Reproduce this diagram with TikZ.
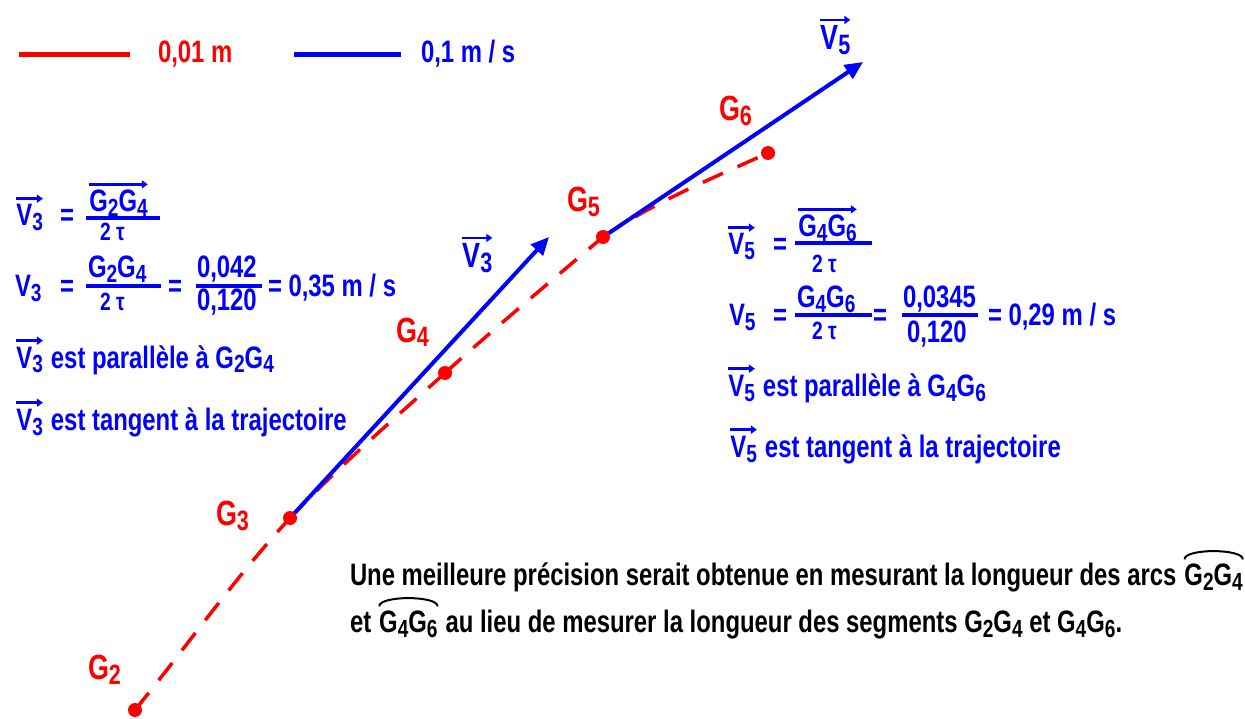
\documentclass[tikz,border=0pt]{standalone}
\usepackage{fontspec}
\setmainfont{Liberation Sans}[FakeStretch=0.77]
\usetikzlibrary{arrows.meta}
\newcommand\ix[1]{\raisebox{-5pt}{\scalebox{0.8}{#1}}}
\newcommand\vv[1]{\tikz[baseline=(vvn.base)]{\node[inner sep=0pt,outer sep=0pt,anchor=base west,text=blue](vvn){#1};\draw[blue,line width=2.8pt,-{Triangle[length=6pt,width=8pt]}]([yshift=6pt]vvn.north west)--([yshift=6pt]vvn.north east);}}
\tikzset{
  txt/.style={inner sep=0pt,outer sep=0pt,anchor=base west,font=\bfseries\fontsize{31}{33}\selectfont},
  bl/.style={txt,text=blue},
  rd/.style={txt,text=red},
  bk/.style={txt,text=black},
  lab/.style={font=\bfseries\fontsize{35}{37}\selectfont},
  den/.style={bl,font=\bfseries\fontsize{25}{27}\selectfont},
  fbar/.style={draw=blue,line width=3.5pt},
  traj/.style={red,line width=3.5pt,dash pattern=on 22pt off 16pt},
  vel/.style={blue,line width=4pt,-{Triangle[length=18pt,width=16pt]}},
  legline/.style={line width=5pt},
  arcmark/.style={draw=black,line width=2pt}
}
\begin{document}
\begin{tikzpicture}[x=1pt,y=-1pt]
\fill[white] (0,0) rectangle (1245,719);
\useasboundingbox (0,0) rectangle (1245,719);

% legend
\draw[legline,red] (19,55) -- (130,55);
\node[rd] (leg1) at (158,63) {0,01 m};
\draw[legline,blue] (294,55) -- (401,55);
\node[bl] (leg2) at (421,63) {0,1 m / s};

% points
\coordinate (G2) at (135,710);
\coordinate (G3) at (290,518);
\coordinate (G4) at (445,373);
\coordinate (G5) at (603,237);
\coordinate (G6) at (768,153);
\coordinate (T3) at (549,237);
\coordinate (T5) at (863,62);

% trajectory
\draw[traj] (G2) .. controls +(52,-64) and +(-56,61) .. (G3);
\draw[traj] (G3) .. controls +(48,-51) and +(-51,46) .. (G4);
\draw[traj] (G4) .. controls +(51,-46) and +(-52,44) .. (G5);
\draw[traj] (G5) .. controls +(51,-35) and +(-57,26) .. (G6);

% velocity vectors
\draw[vel] (G3) -- (T3);
\draw[vel] (G5) -- (T5);

\foreach \p in {G2,G3,G4,G5,G6} \fill[red] (\p) circle (7);

% point labels
\node[rd,lab] (lG2) at (88,679) {G\ix{2}};
\node[rd,lab] (lG3) at (216,525) {G\ix{3}};
\node[rd,lab] (lG4) at (396,342) {G\ix{4}};
\node[rd,lab] (lG5) at (567,212) {G\ix{5}};
\node[rd,lab] (lG6) at (719,121) {G\ix{6}};
\node[bl,lab] (lV3) at (461,268) {\vv{V\ix{3}}};
\node[bl,lab] (lV5) at (819,50) {\vv{V\ix{5}}};

% left block
\node[bl] (l1v) at (15,226) {\vv{V\ix{3}}};
\node[bl] (l1eq) at (60,226) {=};
\node[bl] (l1n) at (88,212) {\vv{G\ix{2}G\ix{4}}};
\draw[fbar] (86,218) -- (160,218);
\node[den] (l1d) at (100,241) {2 τ};

\node[bl] (l2v) at (15,297) {V\ix{3}};
\node[bl] (l2eq) at (60,297) {=};
\node[bl] (l2n) at (88,278) {G\ix{2}G\ix{4}};
\draw[fbar] (86,286) -- (161,286);
\node[den] (l2d) at (100,311) {2 τ};
\node[bl] (l2eqb) at (168,297) {=};
\node[bl] (l2n2) at (197,278) {0,042};
\draw[fbar] (196,286) -- (262,286);
\node[bl] (l2d2) at (197,311) {0,120};
\node[bl] (l2r) at (268,297) {= 0,35 m / s};

\node[bl] (l3) at (15,368) {\vv{V\ix{3}} est parallèle à G\ix{2}G\ix{4}};
\node[bl] (l4) at (15,430) {\vv{V\ix{3}} est tangent à la trajectoire};

% right block
\node[bl] (r1v) at (727,255) {\vv{V\ix{5}}};
\node[bl] (r1eq) at (773,255) {=};
\node[bl] (r1n) at (797,237) {\vv{G\ix{4}G\ix{6}}};
\draw[fbar] (795,243) -- (872,243);
\node[den] (r1d) at (812,273) {2 τ};

\node[bl] (r2v) at (729,326) {V\ix{5}};
\node[bl] (r2eq) at (773,326) {=};
\node[bl] (r2n) at (797,308) {G\ix{4}G\ix{6}};
\draw[fbar] (795,315) -- (872,315);
\node[den] (r2d) at (812,340) {2 τ};
\node[bl] (r2eqb) at (873,326) {=};
\node[bl] (r2n2) at (903,308) {0,0345};
\draw[fbar] (902,315) -- (978,315);
\node[bl] (r2d2) at (907,342) {0,120};
\node[bl] (r2r) at (988,326) {= 0,29 m / s};

\node[bl] (r3) at (727,396) {\vv{V\ix{5}} est parallèle à G\ix{4}G\ix{6}};
\node[bl] (r4) at (729,457) {\vv{V\ix{5}} est tangent à la trajectoire};

% bottom remark
\node[bk] (b1) at (350,585) {Une meilleure précision serait obtenue en mesurant la longueur des arcs};
\node[bk] (b1a) at ([xshift=8pt]b1.base east) {G\ix{2}G\ix{4}};
\draw[arcmark] ([yshift=4pt]b1a.north west) .. controls ([yshift=15pt]b1a.north west) and ([yshift=15pt]b1a.north east) .. ([yshift=4pt]b1a.north east);
\node[bk] (b2) at (350,632) {et};
\node[bk] (b2a) at ([xshift=8pt]b2.base east) {G\ix{4}G\ix{6}};
\draw[arcmark] ([yshift=4pt]b2a.north west) .. controls ([yshift=15pt]b2a.north west) and ([yshift=15pt]b2a.north east) .. ([yshift=4pt]b2a.north east);
\node[bk] (b2b) at ([xshift=8pt]b2a.base east) {au lieu de mesurer la longueur des segments G\ix{2}G\ix{4} et G\ix{4}G\ix{6}.};
\end{tikzpicture}
\end{document}
